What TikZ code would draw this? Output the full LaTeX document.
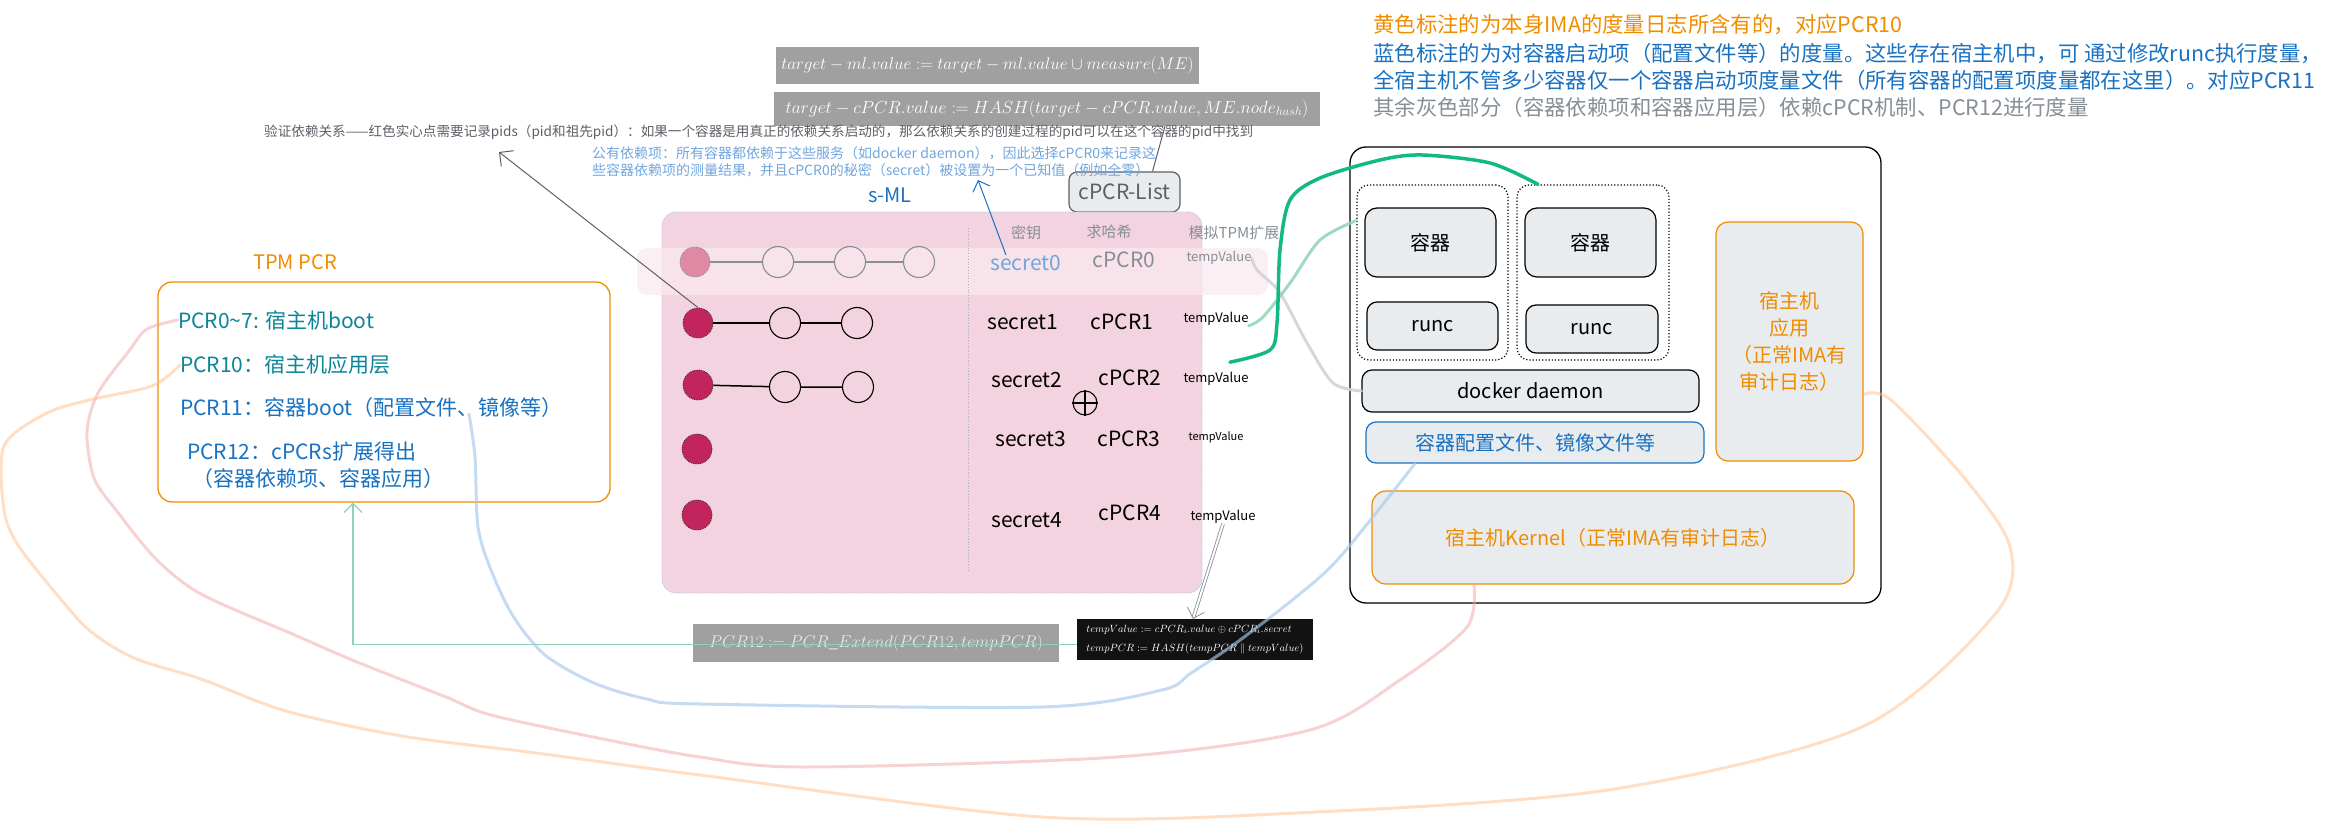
\RequirePackage{fix-cm}
\documentclass[tikz,border=0pt]{standalone}
\usepackage[no-math]{fontspec}
\setmainfont{Noto Sans CJK SC}
\usetikzlibrary{arrows.meta}
\definecolor{exorange}{HTML}{F08C00}
\definecolor{exblue}{HTML}{1971C2}
\definecolor{exteal}{HTML}{0C8599}
\definecolor{exgray}{HTML}{868E96}
\definecolor{exdark}{HTML}{5C5F66}
\definecolor{exlblue}{HTML}{70A5DE}
\definecolor{expink}{HTML}{F3D3DF}
\definecolor{exband}{HTML}{FBE9EF}
\definecolor{excrimson}{HTML}{C2255C}
\definecolor{exfade}{HTML}{E089A5}
\definecolor{exfill}{HTML}{E9ECEF}
\definecolor{exformula}{HTML}{A0A0A0}
\definecolor{exgreen}{HTML}{12B886}
\definecolor{exmint}{HTML}{8FD3B6}
\definecolor{exsky}{HTML}{A5C8EC}
\definecolor{exrose}{HTML}{F2A6A6}
\definecolor{expeach}{HTML}{FFBE8A}
\definecolor{exline}{HTML}{CED4DA}
\newcommand{\txtsize}[1]{\fontsize{#1}{#1}\selectfont}

\begin{document}
\begin{tikzpicture}[x=1pt, y=-1pt,
  txt/.style={inner sep=0pt},
  rbox/.style={draw, line width=1.2pt, rounded corners=12pt, fill=exfill, font=\txtsize{20}},
  grp/.style={draw, dotted, line width=1.2pt, rounded corners=12pt},
  formula/.style={fill=exformula, text=white, inner sep=0pt},
  pdot/.style={circle, fill=excrimson, draw=black!80, densely dotted, line width=0.8pt, minimum size=30pt, inner sep=0pt},
  hop/.style={circle, draw, line width=1.1pt, minimum size=31pt, inner sep=0pt},
  sketch/.style={line width=3pt, line cap=round, opacity=0.55}]
\useasboundingbox (0,0) rectangle (2335,834);

% notes top right
\node[txt, anchor=west, text=exorange, font=\txtsize{21.4}] (n1) at (1373,25) {黄色标注的为本身IMA的度量日志所含有的，对应PCR10};
\node[txt, anchor=west, text=exblue, font=\txtsize{21.4}] (n2) at (1373,53) {蓝色标注的为对容器启动项（配置文件等）的度量。这些存在宿主机中，可 通过修改runc执行度量，};
\node[txt, anchor=west, text=exblue, font=\txtsize{21.4}] (n3) at (1373,80) {全宿主机不管多少容器仅一个容器启动项度量文件（所有容器的配置项度量都在这里）。对应PCR11};
\node[txt, anchor=west, text=exgray, font=\txtsize{21.4}] (n4) at (1373,107) {其余灰色部分（容器依赖项和容器应用层）依赖cPCR机制、PCR12进行度量};

% formulas
\node[formula, minimum width=423, minimum height=37, font=\txtsize{17}] (f1) at (987.5,65.5) {$target-ml.value:=target-ml.value\cup measure(ME)$};
\node[formula, minimum width=546, minimum height=34, font=\txtsize{17.5}] (f2) at (1047,109) {$target-cPCR.value:=HASH(target-cPCR.value,ME.node_{hash})$};
\node[rbox, draw=exdark, text=exdark, rounded corners=8pt, minimum width=111, minimum height=40, inner sep=0pt, font=\txtsize{21}] (cl) at (1124.5,192) {cPCR-List};
\draw[exdark, line width=1pt] ([xshift=28]cl.north) -- ([xshift=118]f2.south);

\node[txt, anchor=west, text=exdark, font=\txtsize{13.6}] (vd) at (264,132) {验证依赖关系——红色实心点需要记录pids（pid和祖先pid）：如果一个容器是用真正的依赖关系启动的，那么依赖关系的创建过程的pid可以在这个容器的pid中找到};
\node[txt, anchor=west, text=exlblue, font=\txtsize{14}] (pub1) at (592,153) {公有依赖项：所有容器都依赖于这些服务（如docker daemon），因此选择cPCR0来记录这};
\node[txt, anchor=west, text=exlblue, font=\txtsize{14}] (pub2) at (592,170) {些容器依赖项的测量结果，并且cPCR0的秘密（secret）被设置为一个已知值（例如全零）};
\node[txt, text=exblue, font=\txtsize{20}] (sml) at (890,195) {s-ML};

% s-ML panel
\node[fill=expink, draw=exsky, densely dotted, line width=0.8pt, rounded corners=14pt, minimum width=540, minimum height=381] (panel) at (932,402.5) {};
\fill[exband, opacity=0.75, rounded corners=10pt] (637,248) rectangle (1268,295);
\draw[exgray!70, dotted, line width=0.8pt] (968,228) -- (968,572);
\node[txt, text=exgray, font=\txtsize{15}] (h1) at (1026,233) {密钥};
\node[txt, text=exgray, font=\txtsize{15}] (h2) at (1109,232) {求哈希};
\node[txt, text=exgray, font=\txtsize{15}] (h3) at (1234,233) {模拟TPM扩展};

\node[pdot, fill=exfade, draw=exgray] (d0) at (695,262) {};
\node[hop, draw=exgray] (r01) at (778,262) {};
\node[hop, draw=exgray] (r02) at (850,262) {};
\node[hop, draw=exgray] (r03) at (919,262) {};
\draw[exgray, line width=1.3pt] (d0) -- (r01) -- (r02) -- (r03);

\node[pdot] (d1) at (698,323) {};
\node[hop] (r11) at (785,323) {};
\node[hop] (r12) at (857,323) {};
\draw[line width=1.5pt] (d1) -- (r11) -- (r12);

\node[pdot] (d2) at (698,385) {};
\node[hop] (r21) at (785,387) {};
\node[hop] (r22) at (858,387) {};
\draw[line width=1.5pt] (d2) -- (r21) -- (r22);

\node[pdot] (d3) at (697,449) {};
\node[pdot] (d4) at (697,515) {};

\node[txt, text=exlblue, font=\txtsize{21}] (s0) at (1026,263) {secret0};
\node[txt, text=exgray, font=\txtsize{21}] (c0) at (1124,260) {cPCR0};
\node[txt, text=exgray, font=\txtsize{13}] (t0) at (1219,258) {tempValue};
\node[txt, font=\txtsize{21}] (s1) at (1023,322) {secret1};
\node[txt, font=\txtsize{21}] (c1) at (1122,322) {cPCR1};
\node[txt, font=\txtsize{13}] (t1) at (1216,319) {tempValue};
\node[txt, font=\txtsize{21}] (s2) at (1027,380) {secret2};
\node[txt, font=\txtsize{21}] (c2) at (1130,378) {cPCR2};
\node[txt, font=\txtsize{13}] (t2) at (1216,379) {tempValue};
\node[circle, draw, line width=1.1pt, minimum size=24pt, inner sep=0pt] (xo) at (1085,403) {};
\draw[line width=1.1pt] (xo.north) -- (xo.south) (xo.west) -- (xo.east);
\node[txt, font=\txtsize{21}] (s3) at (1031,439) {secret3};
\node[txt, font=\txtsize{21}] (c3) at (1129,439) {cPCR3};
\node[txt, font=\txtsize{11}] (t3) at (1216,437) {tempValue};
\node[txt, font=\txtsize{21}] (s4) at (1027,520) {secret4};
\node[txt, font=\txtsize{21}] (c4) at (1130,513) {cPCR4};
\node[txt, font=\txtsize{13}] (t4) at (1223,517) {tempValue};

\coordinate (pubtip) at (978,180);
\coordinate (vdtip) at (499,152);
\draw[exblue, line width=1pt, -{Straight Barb[length=9pt]}] ([xshift=-20]s0.north) -- (pubtip);
\draw[exdark, line width=1pt, -{Straight Barb[length=10pt]}] (d1.north) -- (vdtip);

% TPM PCR
\node[txt, text=exorange, font=\txtsize{20}] (tpmt) at (295,262) {TPM PCR};
\node[draw=exorange, fill=white, line width=1.3pt, rounded corners=14pt, minimum width=452, minimum height=220] (tpm) at (384,392) {};
\node[txt, anchor=west, text=exteal, font=\txtsize{21}] (p0) at (178,320) {PCR0\textasciitilde7: 宿主机boot};
\node[txt, anchor=west, text=exteal, font=\txtsize{21}] (p10) at (180,365) {PCR10：宿主机应用层};
\node[txt, anchor=west, text=exblue, font=\txtsize{21}] (p11) at (180,408) {PCR11：容器boot（配置文件、镜像等）};
\node[txt, anchor=west, text=exblue, font=\txtsize{21}] (p12) at (187,452) {PCR12：cPCRs扩展得出};
\node[txt, anchor=west, text=exblue, font=\txtsize{21}] (p12b) at (192,479) {（容器依赖项、容器应用）};

% host
\node[draw, fill=white, line width=1.3pt, rounded corners=16pt, minimum width=531, minimum height=456] (host) at (1615.5,375) {};
\node[grp, minimum width=151, minimum height=175] (grp1) at (1432.5,272.5) {};
\node[grp, minimum width=152, minimum height=175] (grp2) at (1593,272.5) {};
\node[rbox, minimum width=131, minimum height=69] (ctr1) at (1430.5,242.5) {容器};
\node[rbox, minimum width=131, minimum height=69] (ctr2) at (1590.5,242.5) {容器};
\node[rbox, minimum width=131, minimum height=48, rounded corners=10pt] (runc1) at (1432.5,326) {runc};
\node[rbox, minimum width=132, minimum height=48, rounded corners=10pt] (runc2) at (1592,329) {runc};
\node[rbox, minimum width=337, minimum height=42, rounded corners=10pt] (docker) at (1530.5,391) {docker daemon};
\node[rbox, draw=exblue, text=exblue, minimum width=338, minimum height=41, rounded corners=10pt] (cfg) at (1535,442.5) {容器配置文件、镜像文件等};
\node[rbox, draw=exorange, text=exorange, minimum width=147, minimum height=239, align=center, font=\fontsize{20}{27}\selectfont] (hostapp) at (1789.5,341.5) {宿主机\\应用\\（正常IMA有\\审计日志）};
\node[rbox, draw=exorange, text=exorange, minimum width=482, minimum height=93, rounded corners=14pt] (kernel) at (1613,537.5) {宿主机Kernel（正常IMA有审计日志）};

% bottom formulas
\node[formula, text=white!92!black, minimum width=366, minimum height=38, font=\txtsize{17}] (f3) at (876,643) {$PCR12:=PCR\_Extend(PCR12,tempPCR)$};
\node[fill=black!93, text=white, inner sep=0pt, minimum width=236, minimum height=41, align=left, font=\fontsize{10.5}{19}\selectfont] (f4) at (1195,639.5) {$tempValue:=cPCR_i.value\oplus cPCR_i.secret$\\$tempPCR:=HASH(tempPCR\parallel tempValue)$};
\draw[exgray, line width=0.8pt, double=white, double distance=2pt, -{Straight Barb[length=9pt]}] (t4.south) -- ([xshift=-2]f4.north);
\draw[exmint, line width=1.3pt, -{Straight Barb[length=9pt]}] ([yshift=-5]f4.west) -| ([xshift=-31]tpm.south);

% sketch lines
\draw[sketch, exline, opacity=0.9] plot[smooth] coordinates {(t0.east) (1257,270) (1280,293) (1307,343) (1333,383) (docker.west)};
\draw[sketch, exmint, opacity=0.85] plot[smooth] coordinates {(t1.south east) (1263,317) (1290,283) (1320,240) ([yshift=52]grp1.west)};
\draw[exgreen, line width=3.5pt, line cap=round] plot[smooth] coordinates {([xshift=14,yshift=10]t2.north) (1270,350) (1277,323) (1280,250) (1290,200) (1320,178) (1380,160) (1422,155) (1490,163) ([xshift=-55]grp2.north)};
\coordinate (bstart) at (469,414);
\draw[sketch, exsky, opacity=0.65] plot[smooth] coordinates {(bstart) (475,457) (478,527) (491,570) (513,616) (545,655) (594,683) (647,699) (700,704) (1042,707) (1162,690) (1191,673) (1236,643) (1296,597) (1340,557) ([xshift=-120]cfg.south)};
\draw[sketch, exrose, opacity=0.5] plot[smooth] coordinates {(p0.west) (147,329) (129,351) (98,393) (87,432) (94,478) (116,510) (156,559) (201,594) (290,633) (357,662) (446,697) (491,715) (603,739) (700,757) (804,767) (1117,757) (1310,730) (1400,680) (1467,627) ([xshift=-139]kernel.south)};
\draw[sketch, expeach, opacity=0.5] plot[smooth] coordinates {(p10.west) (152,386) (89,400) (45,414) (4,446) (4,510) (18,545) (54,591) (89,630) (134,658) (201,679) (286,711) (402,736) (536,753) (700,775) (1042,817) (1296,813) (1608,790) (1862,727) (1996,613) (2010,547) (1966,480) (1891,400) ([yshift=-53]hostapp.east)};
\end{tikzpicture}
\end{document}
